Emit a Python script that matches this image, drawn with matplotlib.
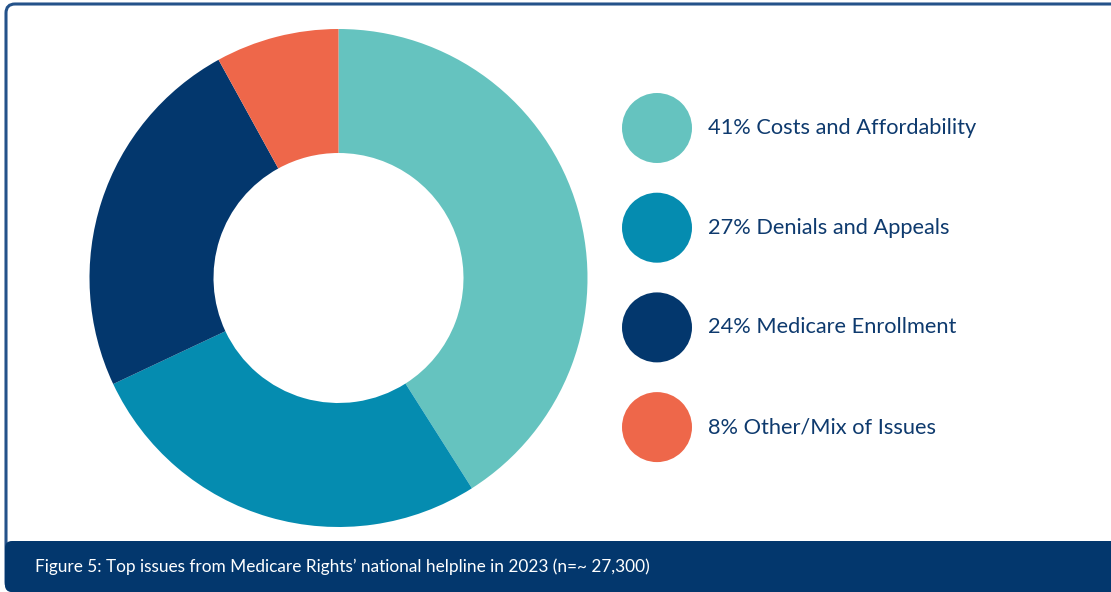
import matplotlib
matplotlib.use("Agg")
import matplotlib.pyplot as plt
from matplotlib.patches import Circle, FancyBboxPatch

# helpline issue shares (percent), clockwise from 12 o'clock
categories = ["Costs and Affordability", "Denials and Appeals",
              "Medicare Enrollment", "Other/Mix of Issues"]
shares = [41, 27, 24, 8]
colors = ["#65C3BF", "#058CB0", "#03376D", "#EE674A"]
caption = "Figure 5: Top issues from Medicare Rights\u2019 national helpline in 2023 (n=~ 27,300)"

NAVY = "#03376D"
W, H = 1111, 592

plt.rcParams["font.family"] = ["Lato", "DejaVu Sans"]

fig = plt.figure(figsize=(W / 100, H / 100), dpi=100)
ax = fig.add_axes([0, 0, 1, 1])


def py(y):
    # pixel row (top-down) -> data y (bottom-up)
    return H - y


# outer card with rounded corners, running off the right edge
card = FancyBboxPatch((6, py(591)), W + 20, 587, boxstyle="round,pad=0,rounding_size=9",
                      facecolor="white", edgecolor="#24528A", lw=2.2, zorder=0)
ax.add_patch(card)

# caption band along the bottom
band = FancyBboxPatch((5, py(592)), W + 20, 51, boxstyle="round,pad=0,rounding_size=7",
                      facecolor=NAVY, edgecolor="none", zorder=1)
ax.add_patch(band)
ax.text(35, py(567), caption, color="white", fontsize=12.4, va="center", ha="left", zorder=2)

# donut
ax.pie(shares, colors=colors, startangle=90, counterclock=False,
       center=(338.5, py(278)), radius=249,
       wedgeprops=dict(width=124, edgecolor="none"))

# legend: big dots with share + label
for i, (cat, val, col) in enumerate(zip(categories, shares, colors)):
    yc = py(128 + i * 99.7)
    ax.add_patch(Circle((657, yc), 35, facecolor=col, edgecolor="none", zorder=3))
    ax.text(708, yc, f"{val}% {cat}", color="#0E3A6E", fontsize=15.7,
            va="center", ha="left", zorder=3)

ax.set_xlim(0, W)
ax.set_ylim(0, H)
ax.set_aspect("equal")
ax.axis("off")

fig.savefig("out.png", dpi=100)
